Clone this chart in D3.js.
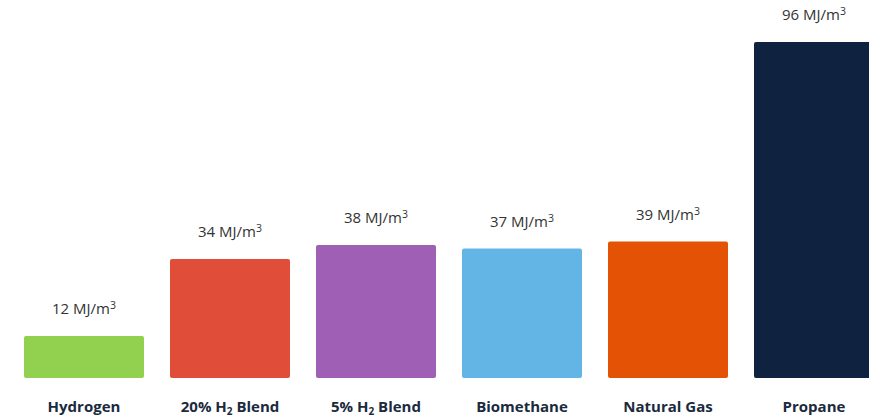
<!DOCTYPE html>
<html>
<head>
<meta charset="utf-8">
<script src="https://cdn.jsdelivr.net/npm/d3@7"></script>
<style>
  html, body { margin: 0; padding: 0; background: #fff; }
  svg { display: block; }
</style>
</head>
<body>
<div id="chart"></div>
<script>
// Energy density by gas
const categories = ['Hydrogen', '20% H2 Blend', '5% H2 Blend', 'Biomethane', 'Natural Gas', 'Propane'];
const values = [12, 34, 38, 37, 39, 96];
const colors = ['#92d050', '#e04e39', '#9e5fb4', '#62b5e5', '#e35205', '#0f2340'];
const unit = 'MJ/m';

const width = 869;
const height = 418;
const baseline = 378;

const svg = d3.select('#chart')
  .append('svg')
  .attr('width', width)
  .attr('height', height);

// bars 120 wide, 146 apart, first one at x=24
const x = d3.scaleBand()
  .domain(categories)
  .range([24, 24 + 146 * 6 - 26])
  .paddingInner(26 / 146)
  .paddingOuter(0);

const y = d3.scaleLinear()
  .domain([0, 96])
  .range([baseline, 42]);

const g = svg.append('g');

g.selectAll('rect.bar')
  .data(values)
  .enter()
  .append('rect')
  .attr('class', 'bar')
  .attr('x', (d, i) => x(categories[i]))
  .attr('y', d => y(d))
  .attr('width', x.bandwidth())
  .attr('height', d => baseline - y(d))
  .attr('rx', 2)
  .attr('fill', (d, i) => colors[i]);

const vals = g.selectAll('text.val')
  .data(values)
  .enter()
  .append('text')
  .attr('class', 'val')
  .attr('x', (d, i) => x(categories[i]) + x.bandwidth() / 2)
  .attr('y', d => y(d) - 22)
  .attr('text-anchor', 'middle')
  .attr('font-family', '"Open Sans", sans-serif')
  .attr('font-size', 15)
  .attr('fill', '#333');

vals.append('tspan').text(d => `${d} ${unit}`);
vals.append('tspan').attr('dy', -5).attr('font-size', 10.5).text('3');

// category labels, with subscript for H2
const labels = g.selectAll('text.cat')
  .data(categories)
  .enter()
  .append('text')
  .attr('class', 'cat')
  .attr('x', d => x(d) + x.bandwidth() / 2)
  .attr('y', 412)
  .attr('text-anchor', 'middle')
  .attr('font-family', '"Open Sans", sans-serif')
  .attr('font-weight', 'bold')
  .attr('font-size', 15)
  .attr('fill', '#1b2a3e');

labels.each(function (d) {
  const t = d3.select(this);
  const parts = d.split('H2');
  if (parts.length === 1) {
    t.text(d);
    return;
  }
  t.append('tspan').text(parts[0] + 'H');
  t.append('tspan').attr('dy', 3).attr('font-size', 10).text('2');
  t.append('tspan').attr('dy', -3).text(parts[1]);
});
</script>
</body>
</html>
